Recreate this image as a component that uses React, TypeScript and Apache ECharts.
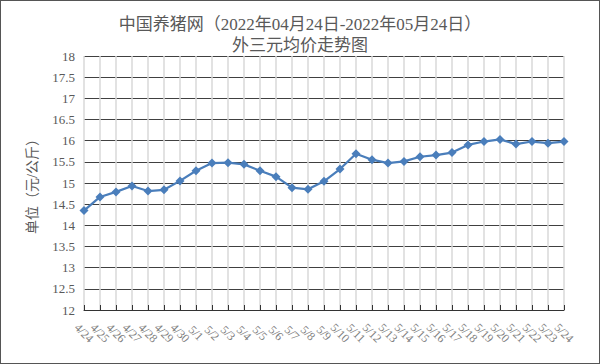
import React, { useEffect, useRef } from "react";
import * as echarts from "echarts";

const categories = [
  "4/24", "4/25", "4/26", "4/27", "4/28", "4/29", "4/30",
  "5/1", "5/2", "5/3", "5/4", "5/5", "5/6", "5/7", "5/8", "5/9", "5/10",
  "5/11", "5/12", "5/13", "5/14", "5/15", "5/16", "5/17", "5/18", "5/19", "5/20",
  "5/21", "5/22", "5/23", "5/24",
];
const prices = [
  14.35, 14.67, 14.79, 14.93, 14.81, 14.84, 15.05,
  15.29, 15.47, 15.48, 15.44, 15.29, 15.15, 14.89, 14.85, 15.04, 15.33,
  15.69, 15.55, 15.47, 15.51, 15.62, 15.66, 15.72, 15.9, 15.98, 16.03,
  15.92, 15.98, 15.94, 15.98,
];
const titleLines = ["中国养猪网（2022年04月24日-2022年05月24日）", "外三元均价走势图"];
const yName = "单位（元/公斤）";

export default function App() {
  const ref = useRef<HTMLDivElement>(null);
  useEffect(() => {
    if (!ref.current) return;
    const chart = echarts.init(ref.current, null, { renderer: "svg" });
    const font = "'Liberation Serif', 'Noto Sans CJK SC', serif";
    chart.setOption({
      animation: false,
      backgroundColor: "#ffffff",
      title: {
        text: titleLines.join("\n"),
        left: "center",
        top: 8,
        textStyle: {
          fontFamily: font,
          fontSize: 17,
          fontWeight: "normal",
          color: "#595959",
          lineHeight: 21,
        },
      },
      grid: { left: 83, right: 35, top: 55, bottom: 53 },
      xAxis: {
        type: "category",
        data: categories,
        boundaryGap: false,
        axisLine: { show: true, lineStyle: { color: "#333", width: 1 } },
        axisTick: { show: true, inside: true, length: 5, alignWithLabel: true, lineStyle: { color: "#333" } },
        splitLine: { show: true, lineStyle: { color: "#d9d9d9", width: 1.5 } },
        axisLabel: {
          rotate: -45,
          interval: 0,
          fontFamily: font,
          fontSize: 12,
          color: "#7f7f7f",
          margin: 23,
          align: "center",
          verticalAlign: "middle",
        },
      },
      yAxis: {
        type: "value",
        min: 12,
        max: 18,
        interval: 0.5,
        name: yName,
        nameLocation: "middle",
        nameGap: 45,
        nameRotate: 90,
        nameTextStyle: { fontFamily: font, fontSize: 14, color: "#595959" },
        axisLine: { show: false },
        axisTick: { show: false },
        splitLine: { show: true, lineStyle: { color: "#404040", width: 1 } },
        axisLabel: {
          fontFamily: font,
          fontSize: 13,
          color: "#595959",
          margin: 9,
        },
      },
      series: [
        {
          type: "line",
          data: prices,
          symbol: "diamond",
          symbolSize: 9,
          lineStyle: { color: "#4a7ebb", width: 2.25 },
          itemStyle: { color: "#4a7ebb" },
        },
      ],
    });
    return () => chart.dispose();
  }, []);
  return (
    <div
      style={{
        position: "fixed",
        left: 0,
        top: 0,
        width: 600,
        height: 364,
        boxSizing: "border-box",
        border: "1px solid #555",
        background: "#fff",
      }}
    >
      <div ref={ref} style={{ width: 598, height: 362 }} />
    </div>
  );
}
